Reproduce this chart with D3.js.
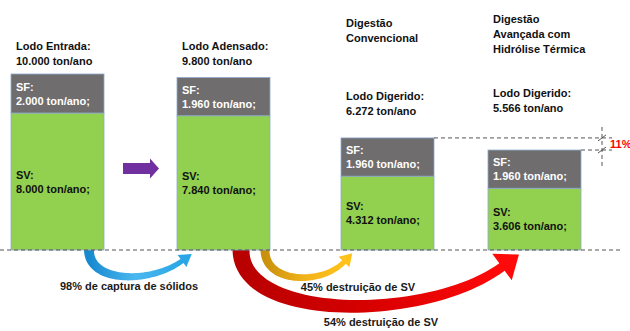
<!DOCTYPE html>
<html>
<head>
<meta charset="utf-8">
<script src="https://cdn.jsdelivr.net/npm/d3@7"></script>
<style>
    html, body { margin: 0; padding: 0; background: #fff; }
    svg { display: block; font-family: "Liberation Sans", Arial, sans-serif; font-weight: bold; }
</style>
</head>
<body>
<svg id="chart" width="630" height="331"></svg>
<script>
// data
var stages = ['Lodo Entrada', 'Lodo Adensado', 'Digestão Convencional', 'Digestão Avançada'];
var stageTitles = [[], [], ['Digestão', 'Convencional'], ['Digestão', 'Avançada com', 'Hidrólise Térmica']];
var totalLabels = ['Lodo Entrada:', 'Lodo Adensado:', 'Lodo Digerido:', 'Lodo Digerido:'];
var totals = ['10.000', '9.800', '6.272', '5.566'];
var sfValues = [2000, 1960, 1960, 1960];
var svValues = [8000, 7840, 4312, 3606];
var sfLabels = ['2.000', '1.960', '1.960', '1.960'];
var svLabels = ['8.000', '7.840', '4.312', '3.606'];
var flowFrom = [0, 1, 1];
var flowTo = [1, 2, 3];
var flowLabels = ['98% de captura de sólidos', '45% destruição de SV', '54% destruição de SV'];
var gainLabel = '11%';

(function () {

    var svg = d3.select('#chart'),
        base = 250,
        barW = 93,
        colX = [11, 177, 341, 488],
        titleY = [0, 0, 27, 23],
        totalY = [50, 50, 100, 97],
        lh = 14.5;

    var ySV = d3.scaleLinear().domain([0, 8000]).range([0, 137]),
        hSF = d3.scaleLinear().domain([0, 2000]).range([0, 39]);

    var defs = svg.append('defs');

    var bars = stages.map(function (s, i) {
        var svTop = base - ySV(svValues[i]);
        return { x: colX[i], svTop: svTop, top: svTop - hSF(sfValues[i]) };
    });

    // curved arrows (drawn under bars)
    var flowStyle = [
        { sx: 78, w0: 10, w1: 5, c1: [0, 33], c2: [-32, 34], end: [5, 11], hw: 15, hl: 12, cols: ['#1789cf', '#4ab8ef', '#2aa6e6'], lx: 129, ly: 290 },
        { sx: 88, w0: 9, w1: 5, c1: [0, 34], c2: [-22, 35], end: [3, 12], hw: 15, hl: 12, cols: ['#c9900c', '#f2b31a', '#ffc21a'], lx: 358, ly: 291 },
        { sx: 64, w0: 17, w1: 9, c1: [0, 72], c2: [-75, 72], end: [14, 17], hw: 33, hl: 21, cols: ['#b80000', '#d80000', '#ff0a0a'], lx: 381, ly: 326 }
    ];

    function bez(p, t) {
        var m = 1 - t;
        return [
            m * m * m * p[0][0] + 3 * m * m * t * p[1][0] + 3 * m * t * t * p[2][0] + t * t * t * p[3][0],
            m * m * m * p[0][1] + 3 * m * m * t * p[1][1] + 3 * m * t * t * p[2][1] + t * t * t * p[3][1]
        ];
    }

    function bezD(p, t) {
        var m = 1 - t;
        return [
            3 * m * m * (p[1][0] - p[0][0]) + 6 * m * t * (p[2][0] - p[1][0]) + 3 * t * t * (p[3][0] - p[2][0]),
            3 * m * m * (p[1][1] - p[0][1]) + 6 * m * t * (p[2][1] - p[1][1]) + 3 * t * t * (p[3][1] - p[2][1])
        ];
    }

    // tapered band along a cubic curve, closed by an arrow head
    function arrowPoints(p, w0, w1, hw, hl) {
        var left = [], right = [], n = 48;
        for (var i = 0; i <= n; i++) {
            var t = i / n, q = bez(p, t), d = bezD(p, t),
                len = Math.sqrt(d[0] * d[0] + d[1] * d[1]) || 1,
                nx = -d[1] / len, ny = d[0] / len,
                w = (w0 + (w1 - w0) * t) / 2;
            left.push([q[0] + nx * w, q[1] + ny * w]);
            right.push([q[0] - nx * w, q[1] - ny * w]);
        }
        var d1 = bezD(p, 1), l1 = Math.sqrt(d1[0] * d1[0] + d1[1] * d1[1]),
            ux = d1[0] / l1, uy = d1[1] / l1, e = p[3];
        var head = [
            [e[0] - uy * hw / 2, e[1] + ux * hw / 2],
            [e[0] + ux * hl, e[1] + uy * hl],
            [e[0] + uy * hw / 2, e[1] - ux * hw / 2]
        ];
        return left.concat(head).concat(right.reverse());
    }

    var line = d3.line().curve(d3.curveLinearClosed);
    var $flows = svg.append('g').classed('flows', true);

    flowLabels.forEach(function (label, i) {
        var st = flowStyle[i],
            from = bars[flowFrom[i]],
            to = bars[flowTo[i]],
            p0 = [from.x + st.sx, base],
            p3 = [to.x + st.end[0], base + st.end[1]],
            p = [p0, [p0[0] + st.c1[0], base + st.c1[1]], [p3[0] + st.c2[0], base + st.c2[1]], p3];

        var gid = 'grad' + i;
        var g = defs.append('linearGradient').attr('id', gid)
            .attr('gradientUnits', 'userSpaceOnUse')
            .attr('x1', p0[0]).attr('x2', p3[0]).attr('y1', 0).attr('y2', 0);
        g.append('stop').attr('offset', 0).attr('stop-color', st.cols[0]);
        g.append('stop').attr('offset', 0.5).attr('stop-color', st.cols[1]);
        g.append('stop').attr('offset', 1).attr('stop-color', st.cols[2]);

        $flows.append('path')
            .attr('d', line(arrowPoints(p, st.w0, st.w1, st.hw, st.hl)))
            .attr('fill', 'url(#' + gid + ')');

        $flows.append('text')
            .attr('x', st.lx).attr('y', st.ly)
            .attr('text-anchor', 'middle')
            .attr('font-size', 11)
            .attr('fill', '#1a1a1a')
            .text(label);
    });

    // bars
    var $bars = svg.append('g').classed('bars', true);
    bars.forEach(function (b, i) {
        $bars.append('rect')
            .attr('x', b.x).attr('y', b.svTop)
            .attr('width', barW).attr('height', base - b.svTop)
            .attr('fill', '#92d050').attr('stroke', '#8eaacd').attr('stroke-width', 0.8);
        $bars.append('rect')
            .attr('x', b.x).attr('y', b.top)
            .attr('width', barW).attr('height', b.svTop - b.top)
            .attr('fill', '#6f6d6e').attr('stroke', '#8eaacd').attr('stroke-width', 0.8);

        var sfMid = (b.top + b.svTop) / 2, svMid = (b.svTop + base) / 2, tx = b.x + 5;
        [['SF:', sfMid - 3], [sfLabels[i] + ' ton/ano;', sfMid + 11]].forEach(function (d) {
            $bars.append('text').attr('x', tx).attr('y', d[1]).attr('font-size', 11)
                .attr('fill', '#fff').text(d[0]);
        });
        [['SV:', svMid - 3], [svLabels[i] + ' ton/ano;', svMid + 11]].forEach(function (d) {
            $bars.append('text').attr('x', tx).attr('y', d[1]).attr('font-size', 11)
                .attr('fill', '#111').text(d[0]);
        });

        // headers
        stageTitles[i].forEach(function (t, j) {
            $bars.append('text').attr('x', b.x + 5).attr('y', titleY[i] + j * 15)
                .attr('font-size', 11).attr('fill', '#111').text(t);
        });
        $bars.append('text').attr('x', b.x + 5).attr('y', totalY[i])
            .attr('font-size', 11).attr('fill', '#111').text(totalLabels[i]);
        $bars.append('text').attr('x', b.x + 5).attr('y', totalY[i] + lh)
            .attr('font-size', 11).attr('fill', '#111').text(totals[i] + ' ton/ano');
    });

    // purple arrow between first two bars
    var ay = (bars[0].svTop + base) / 2 - 13,
        ax0 = bars[0].x + barW + 19, ax1 = bars[1].x - 18;
    svg.append('path')
        .attr('d', line([
            [ax0, ay - 5.5], [ax1 - 9, ay - 5.5], [ax1 - 9, ay - 10], [ax1, ay],
            [ax1 - 9, ay + 10], [ax1 - 9, ay + 5.5], [ax0, ay + 5.5]
        ]))
        .attr('fill', '#7030a0');

    // dashed guides
    var $guides = svg.append('g').classed('guides', true)
        .attr('stroke', '#555').attr('stroke-width', 1).attr('stroke-dasharray', '4,3').attr('fill', 'none');
    $guides.append('line').attr('x1', 0).attr('x2', 620).attr('y1', base).attr('y2', base);
    var gx = 602;
    $guides.append('line').attr('x1', bars[2].x + barW).attr('x2', 612).attr('y1', bars[2].top).attr('y2', bars[2].top);
    $guides.append('line').attr('x1', bars[3].x + barW).attr('x2', 612).attr('y1', bars[3].top).attr('y2', bars[3].top);
    $guides.append('line').attr('x1', gx).attr('x2', gx).attr('y1', bars[2].top - 11).attr('y2', bars[3].top + 17);
    [bars[2].top, bars[3].top].forEach(function (y) {
        svg.append('line').attr('x1', gx - 4).attr('y1', y + 3).attr('x2', gx + 4).attr('y2', y - 3)
            .attr('stroke', '#555').attr('stroke-width', 1);
    });
    svg.append('text').attr('x', 610).attr('y', (bars[2].top + bars[3].top) / 2 + 4)
        .attr('font-size', 11).attr('fill', '#ff0000').text(gainLabel);

})();
</script>
</body>
</html>
